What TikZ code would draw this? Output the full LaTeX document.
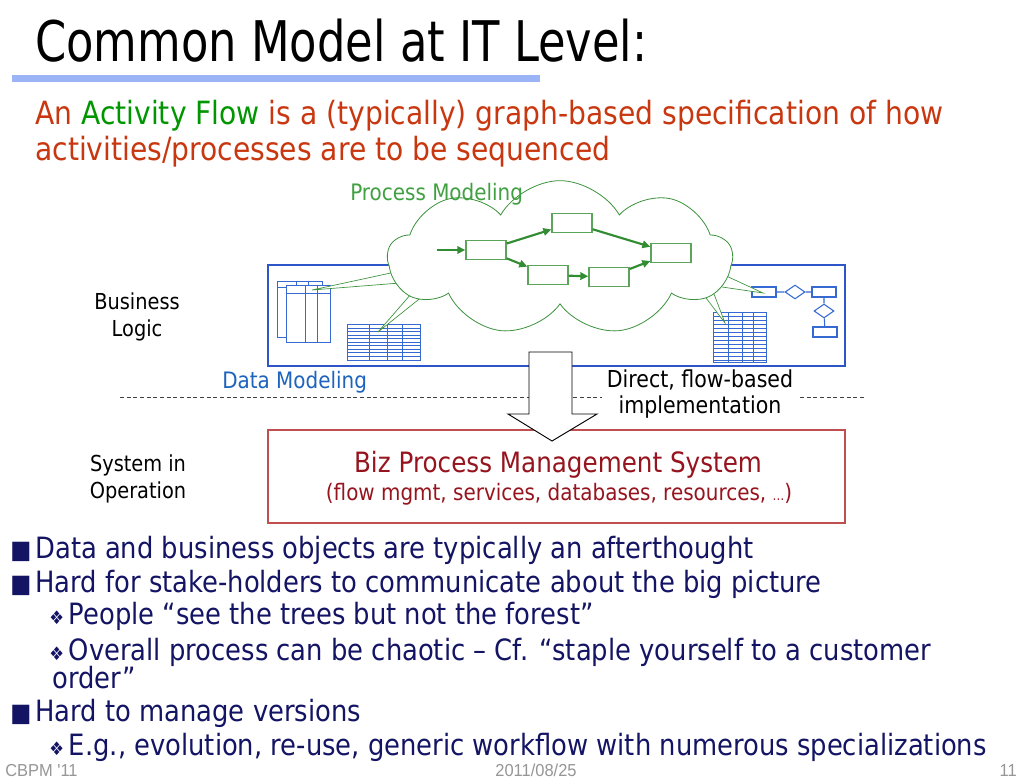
\documentclass[tikz,border=0pt]{standalone}
\usepackage{fontspec}
\setmainfont{DejaVu Sans}[FakeStretch=0.88]
\newfontfamily\titlefont{DejaVu Sans}[FakeStretch=0.8]
\newfontfamily\footfont{Liberation Sans}[FakeStretch=0.95]
\usetikzlibrary{arrows.meta,shapes.symbols,shapes.geometric,positioning}

\definecolor{titlebar}{RGB}{155,180,245}
\definecolor{subred}{RGB}{200,55,15}
\definecolor{actgreen}{RGB}{0,150,0}
\definecolor{cloudgreen}{RGB}{60,145,60}
\definecolor{pmgreen}{RGB}{65,160,65}
\definecolor{procbox}{RGB}{90,165,90}
\definecolor{procarr}{RGB}{50,140,50}
\definecolor{datablue}{RGB}{45,85,200}
\definecolor{tblblue}{RGB}{55,105,210}
\definecolor{dmblue}{RGB}{30,100,190}
\definecolor{bpmred}{RGB}{150,20,30}
\definecolor{bpmbox}{RGB}{190,80,80}
\definecolor{navy}{RGB}{20,20,100}
\definecolor{footgray}{RGB}{150,150,150}

\newcommand\sqbul{{\fontsize{19pt}{20pt}\selectfont ■}\hspace{3pt}}
\newcommand\dmbul{{\fontsize{14pt}{15pt}\selectfont ❖}\,}

\begin{document}
\begin{tikzpicture}[x=0.75pt,y=-0.75pt,
    txt/.style={inner sep=0pt, anchor=base west},
    lbl/.style={inner sep=0pt, align=center, font=\fontsize{16.5pt}{20pt}\selectfont},
    bul/.style={txt, text=navy, font=\fontsize{22pt}{26pt}\selectfont},
    flowbox/.style={draw=procbox, line width=1pt, minimum width=30pt, minimum height=14.25pt, inner sep=0pt},
    flowarr/.style={draw=procarr, line width=1.6pt, -{Triangle[length=6pt,width=5.5pt]}},
    tbl/.style={draw=tblblue, line width=0.6pt},
    erbox/.style={draw=tblblue, line width=0.8pt, minimum width=18pt, minimum height=7.5pt, inner sep=0pt},
    erdia/.style={diamond, draw=tblblue, line width=0.8pt, minimum width=15pt, minimum height=10.5pt, inner sep=0pt},
    callout/.style={draw=cloudgreen, fill=white, line width=0.5pt}]

    \useasboundingbox[fill=white] (0,0) rectangle (1023,780);

    % title
    \node[txt, font=\titlefont\fontsize{42pt}{46pt}\selectfont] (title) at (35,62) {Common Model at IT Level:};
    \fill[titlebar] (12,75) rectangle (540,82);

    \node[txt, text=subred, font=\fontsize{24pt}{28pt}\selectfont] (sub1) at (35,125)
        {An \textcolor{actgreen}{Activity Flow} is a (typically) graph-based specification of how};
    \node[txt, text=subred, font=\fontsize{24pt}{28pt}\selectfont] (sub2) at (35,161)
        {activities/processes are to be sequenced};

    % business logic frame and its icons
    \draw[datablue, line width=0.9pt] (268,265) rectangle (845,366);

    \draw[tbl] (277,281) rectangle (322,337);
    \draw[tbl] (277,287) -- (322,287);
    \draw[tbl] (296,281) -- (296,337) (308,281) -- (308,337);
    \filldraw[tbl, fill=white] (286,285) rectangle (330,342);
    \draw[tbl] (286,293) -- (330,293);
    \draw[tbl] (305,285) -- (305,342) (317,285) -- (317,342);

    \draw[tbl] (347,324) rectangle (420,360);
    \foreach \yy in {328,331.5,...,357} \draw[tbl] (347,\yy) -- (420,\yy);
    \foreach \xx in {369,387,402} \draw[tbl] (\xx,324) -- (\xx,360);

    \draw[tbl] (713,312) rectangle (766,362);
    \foreach \yy in {316,320,...,360} \draw[tbl] (713,\yy) -- (766,\yy);
    \foreach \xx in {728,742,753} \draw[tbl] (\xx,312) -- (\xx,362);

    \node[erbox] (e1) at (764,292) {};
    \node[erdia] (d1) at (795,292) {};
    \node[erbox] (e2) at (824,292) {};
    \node[erdia] (d2) at (824,311) {};
    \node[erbox] (e3) at (825,332) {};
    \draw[tblblue, line width=0.8pt] (e1) -- (d1) -- (e2) -- (d2) -- (e3);

    % callouts from the cloud
    \draw[callout] (400,271) -- (312,290) -- (400,283);
    \draw[callout] (418,286) -- (378,332) -- (428,292);
    \draw[callout] (722,274) -- (763,293) -- (722,287);
    \draw[callout] (700,290) -- (725,323) -- (714,294);

    % process modeling cloud
    \node[cloud, draw=cloudgreen, fill=white, line width=0.6pt, cloud puffs=9, cloud puff arc=120,
        aspect=2.2, minimum width=258pt, minimum height=116pt, inner sep=0pt] (pm) at (560,258) {};
    \node[txt, text=pmgreen, font=\fontsize{17pt}{20pt}\selectfont] (pmlbl) at (350,201) {Process Modeling};

    \node[flowbox] (p1) at (486,250) {};
    \node[flowbox] (p2) at (572,223) {};
    \node[flowbox] (p3) at (671,253) {};
    \node[flowbox] (p4) at (548,275) {};
    \node[flowbox] (p5) at (609,277) {};
    \coordinate (pin) at (437,250);
    \draw[flowarr] (pin) -- (p1);
    \draw[flowarr] (p1) -- (p2);
    \draw[flowarr] (p2) -- (p3);
    \draw[flowarr] (p1) -- (p4);
    \draw[flowarr] (p4) -- (p5);
    \draw[flowarr] (p5) -- (p3);

    % levels
    \coordinate (dl) at (120,397);
    \coordinate (dr) at (866,397);
    \draw[black!75, line width=0.5pt, dash pattern=on 3pt off 2pt] (dl) -- (dr);

    \node[lbl] (bl) at (137,317) {Business\\Logic};
    \node[lbl] (so) at (138,479) {System in\\Operation};
    \node[txt, text=dmblue, font=\fontsize{17pt}{20pt}\selectfont] (dm) at (222,388) {Data Modeling};
    \node[lbl, fill=white, inner xsep=4pt, font=\fontsize{17.5pt}{19pt}\selectfont] (impl) at (700,394) {Direct, flow-based\\implementation};

    \node[draw=bpmbox, line width=0.8pt, minimum width=432.75pt, minimum height=69.75pt] (bpms) at (556.5,476.5) {};
    \node[inner sep=0pt, anchor=base, text=bpmred, font=\fontsize{21pt}{24pt}\selectfont] (bpmt) at (558,472)
        {Biz Process Management System};
    \node[inner sep=0pt, anchor=base, text=bpmred, font=\fontsize{17pt}{20pt}\selectfont] (bpmd) at (559,500)
        {(flow mgmt, services, databases, resources, {\fontsize{10pt}{11pt}\selectfont …})};

    \draw[fill=white, line width=0.7pt] (529,352) -- (572,352) -- (572,414) -- (597,414) -- (552,441)
        -- (508,414) -- (529,414) -- cycle;

    % bullets
    \node[bul] (b1) at (10,558) {\sqbul Data and business objects are typically an afterthought};
    \node[bul] (b2) at (10,592) {\sqbul Hard for stake-holders to communicate about the big picture};
    \node[bul] (b3) at (49,624) {\dmbul People “see the trees but not the forest”};
    \node[bul] (b4) at (49,660) {\dmbul Overall process can be chaotic – Cf. “staple yourself to a customer};
    \node[bul] (b5) at (52,688) {order”};
    \node[bul] (b6) at (10,721) {\sqbul Hard to manage versions};
    \node[bul] (b7) at (49,755) {\dmbul E.g., evolution, re-use, generic workflow with numerous specializations};

    % footer
    \node[txt, text=footgray, font=\footfont\fontsize{13pt}{14pt}\selectfont] (f1) at (5,776) {CBPM '11};
    \node[inner sep=0pt, anchor=base, text=footgray, font=\footfont\fontsize{13pt}{14pt}\selectfont] (f2) at (536,776) {2011/08/25};
    \node[inner sep=0pt, anchor=base east, text=footgray, font=\footfont\fontsize{13pt}{14pt}\selectfont] (f3) at (1017,776) {11};
\end{tikzpicture}
\end{document}
